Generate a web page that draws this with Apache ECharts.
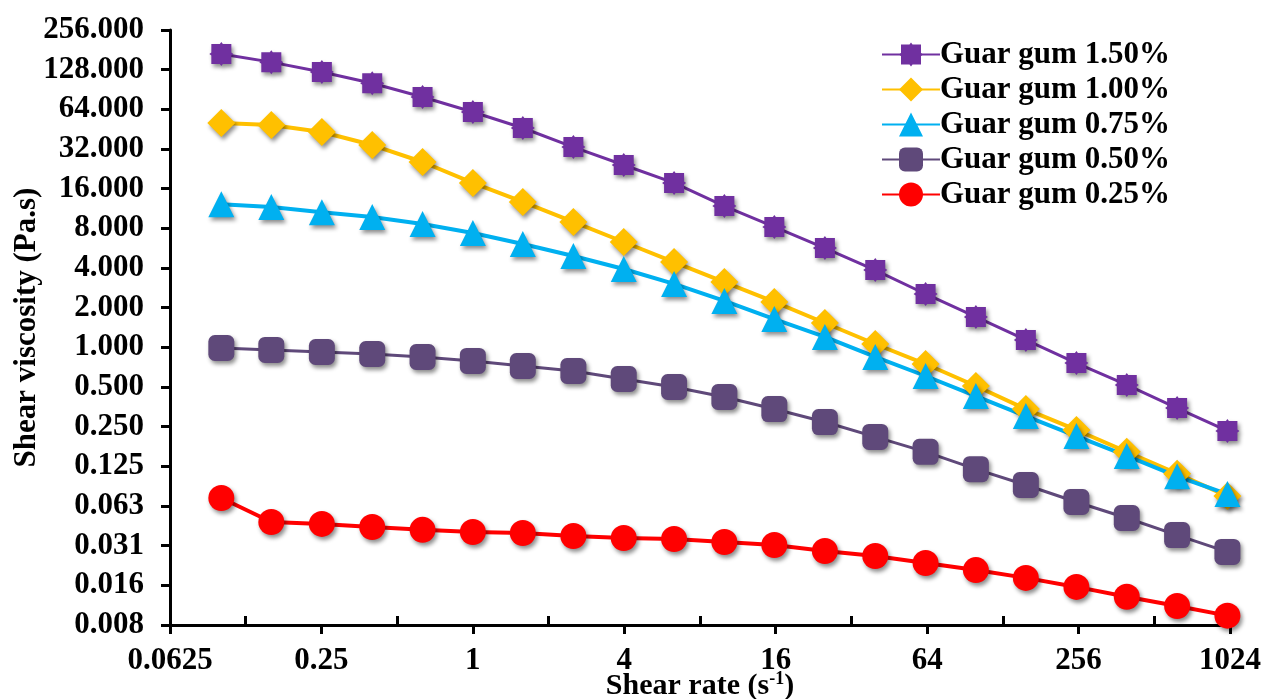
<!DOCTYPE html>
<html>
<head>
<meta charset="utf-8">
<script src="https://cdn.jsdelivr.net/npm/echarts@6/dist/echarts.min.js"></script>
<style>
  html, body { margin: 0; padding: 0; background: #fff; }
  #chart { width: 1268px; height: 699px; }
</style>
</head>
<body>
<div id="chart"></div>
<script>
// Shear rate (s^-1), five points per decade
const shearRate = [0.1, 0.158, 0.251, 0.398, 0.631, 1, 1.58, 2.51, 3.98, 6.31, 10, 15.8, 25.1, 39.8, 63.1, 100, 158, 251, 398, 631, 1000];

// Shear viscosity (Pa.s) for each guar gum concentration
const guar150 = [168, 146, 123, 101, 79.4, 61.1, 46.2, 33.1, 24.2, 17.7, 11.8, 8.19, 5.67, 3.86, 2.54, 1.70, 1.137, 0.760, 0.518, 0.346, 0.232];
const guar100 = [50.4, 48.7, 43.1, 34.3, 25.5, 17.7, 12.7, 8.94, 6.30, 4.44, 3.13, 2.21, 1.53, 1.06, 0.747, 0.509, 0.340, 0.236, 0.161, 0.110, 0.0743];
const guar075 = [12.2, 11.6, 10.6, 9.75, 8.63, 7.37, 6.08, 4.93, 3.93, 3.03, 2.25, 1.64, 1.20, 0.845, 0.606, 0.427, 0.301, 0.212, 0.150, 0.105, 0.077];
const guar050 = [0.988, 0.955, 0.922, 0.890, 0.845, 0.788, 0.722, 0.661, 0.575, 0.500, 0.420, 0.340, 0.271, 0.209, 0.161, 0.119, 0.0902, 0.0670, 0.0507, 0.0376, 0.0280];
const guar025 = [0.0718, 0.0473, 0.0457, 0.0433, 0.0412, 0.0397, 0.0390, 0.0370, 0.0357, 0.0351, 0.0333, 0.0316, 0.0285, 0.0261, 0.0231, 0.0204, 0.0178, 0.0152, 0.0128, 0.0109, 0.0092];

const seriesNames = ['Guar gum 1.50%', 'Guar gum 1.00%', 'Guar gum 0.75%', 'Guar gum 0.50%', 'Guar gum 0.25%'];

// Tick labels (powers of two)
const xTickLabels = ['0.0625', '0.25', '1', '4', '16', '64', '256', '1024'];
const yTickLabels = ['0.008', '0.016', '0.031', '0.063', '0.125', '0.250', '0.500', '1.000',
                     '2.000', '4.000', '8.000', '16.000', '32.000', '64.000', '128.000', '256.000'];

const FONT = '"Times New Roman", "Liberation Serif", serif';
const pairs = vals => shearRate.map((x, i) => [x, vals[i]]);

const starSquare = 'path://M2 2 L10.5 2 L12 0 L13.5 2 L22 2 L22 10.5 L24 12 L22 13.5 L22 22 L13.5 22 L12 24 L10.5 22 L2 22 L2 13.5 L0 12 L2 10.5 Z';

const markerShadow = {
  shadowBlur: 4,
  shadowColor: 'rgba(0,0,0,0.45)',
  shadowOffsetX: 2,
  shadowOffsetY: 3
};

function makeSeries(name, vals, color, symbol, size, width) {
  return {
    name: name,
    type: 'line',
    xAxisIndex: 0,
    yAxisIndex: 0,
    data: pairs(vals),
    symbol: symbol,
    symbolSize: size,
    clip: false,
    lineStyle: { color: color, width: width },
    itemStyle: Object.assign({ color: color, borderWidth: 0 }, markerShadow),
    emphasis: { disabled: true }
  };
}

const gridLeft = 170, gridWidth = 1060, gridTop = 30, gridHeight = 595;
const octave = gridWidth / 14;

const chart = echarts.init(document.getElementById('chart'), null, { renderer: 'canvas' });
chart.setOption({
  animation: false,
  backgroundColor: '#ffffff',
  grid: [
    { left: gridLeft, top: gridTop, width: gridWidth, height: gridHeight, containLabel: false, outerBoundsMode: 'none' },
    // shifted by one octave: carries the odd-power (inner) ticks
    { left: gridLeft + octave, top: gridTop, width: gridWidth, height: gridHeight, containLabel: false, outerBoundsMode: 'none' }
  ],
  legend: {
    orient: 'vertical',
    left: 876,
    top: 34,
    itemWidth: 58,
    itemHeight: 30,
    itemGap: 4,
    textStyle: { fontFamily: FONT, fontWeight: 'bold', fontSize: 31, color: '#000', lineHeight: 28, padding: [0, 0, 0, -5] },
    data: seriesNames
  },
  xAxis: [
    {
      type: 'log',
      logBase: 2,
      gridIndex: 0,
      min: 0.0625,
      max: 1024,
      interval: 2,
      name: '{a|Shear rate (s}{s|-1}{a|)}',
      nameLocation: 'middle',
      nameGap: 45,
      nameMoveOverlap: false,
      nameTextStyle: {
        rich: {
          a: { fontFamily: FONT, fontWeight: 'bold', fontSize: 30, color: '#000' },
          s: { fontFamily: FONT, fontWeight: 'bold', fontSize: 18, color: '#000', verticalAlign: 'top', padding: [0, 0, 14, 0] }
        }
      },
      axisLine: { show: true, lineStyle: { color: '#000', width: 3 } },
      axisTick: { show: true, inside: false, length: 9, lineStyle: { color: '#000', width: 3 } },
      axisLabel: {
        margin: 20,
        fontFamily: FONT, fontWeight: 'bold', fontSize: 31, color: '#000',
        formatter: v => xTickLabels[Math.round((Math.log2(v) + 4) / 2)]
      },
      splitLine: { show: false }
    },
    {
      type: 'log',
      logBase: 2,
      gridIndex: 1,
      min: 0.125,
      max: 2048,
      interval: 2,
      axisLine: { show: false },
      axisTick: { show: true, inside: true, length: 9, lineStyle: { color: '#000', width: 3 } },
      axisLabel: { show: false },
      splitLine: { show: false }
    }
  ],
  yAxis: [
    {
      type: 'log',
      logBase: 2,
      gridIndex: 0,
      min: 0.0078125,
      max: 256,
      interval: 1,
      name: 'Shear viscosity (Pa.s)',
      nameLocation: 'middle',
      nameGap: 128,
      nameMoveOverlap: false,
      nameTextStyle: { fontFamily: FONT, fontWeight: 'bold', fontSize: 31, color: '#000' },
      axisLine: { show: true, lineStyle: { color: '#000', width: 3 } },
      axisTick: { show: true, inside: false, length: 9, lineStyle: { color: '#000', width: 3 } },
      axisLabel: {
        margin: 26,
        fontFamily: FONT, fontWeight: 'bold', fontSize: 31, color: '#000',
        formatter: v => yTickLabels[Math.round(Math.log2(v)) + 7]
      },
      splitLine: { show: false }
    },
    { type: 'value', gridIndex: 1, show: false }
  ],
  series: [
    makeSeries(seriesNames[0], guar150, '#7030A0', starSquare, 24, 3),
    makeSeries(seriesNames[1], guar100, '#FFC000', 'diamond', 28, 4),
    makeSeries(seriesNames[2], guar075, '#00B0F0', 'triangle', 26, 4),
    makeSeries(seriesNames[3], guar050, '#5F497A', 'roundRect', 26, 3),
    makeSeries(seriesNames[4], guar025, '#FF0000', 'circle', 26, 4)
  ]
});
</script>
</body>
</html>
